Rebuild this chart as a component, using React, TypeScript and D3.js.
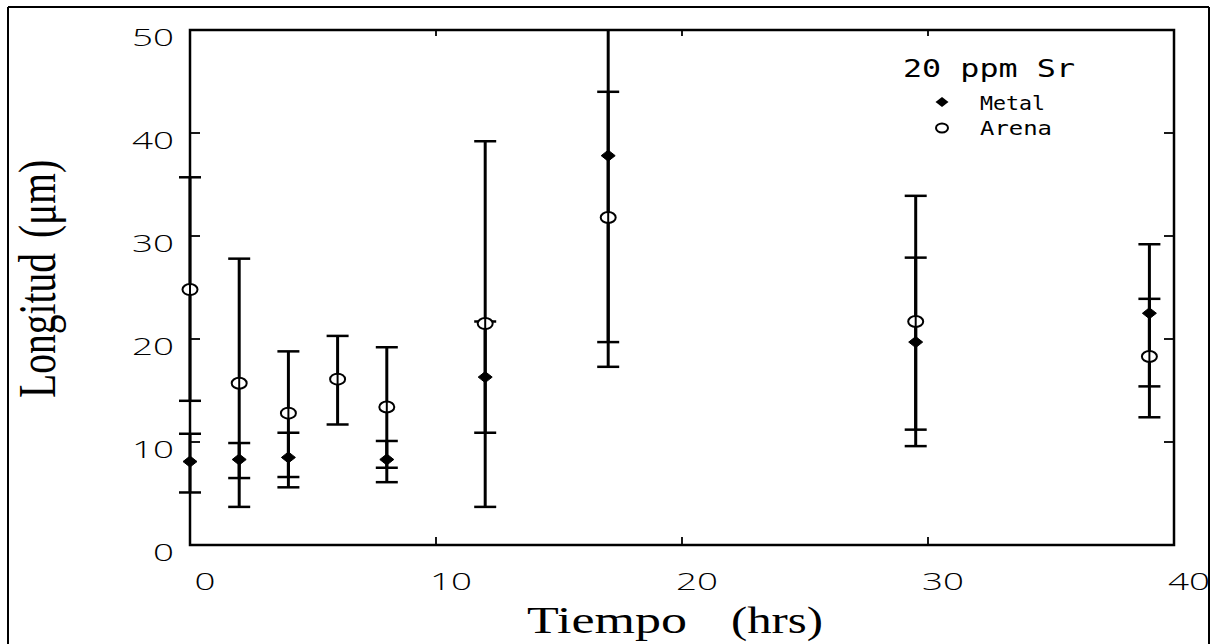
import React from "react";
import * as d3 from "d3";

// ---- data ----
const times = [0, 2, 4, 6, 8, 12, 17, 29.5, 39];
const metalMean: (number | null)[] = [8.1, 8.3, 8.5, null, 8.3, 16.3, 37.8, 19.7, 22.5];
const metalLow: (number | null)[] = [5.1, 6.5, 5.6, null, 6.1, 10.9, 17.3, 11.2, 15.4];
const metalHigh: (number | null)[] = [10.8, 9.9, 10.9, null, 10.1, 21.7, 58.3, 27.9, 29.2];
const arenaMean = [24.8, 15.7, 12.8, 16.1, 13.4, 21.5, 31.8, 21.7, 18.3];
const arenaLow = [14.0, 3.7, 6.6, 11.7, 7.5, 3.7, 19.7, 9.6, 12.4];
const arenaHigh = [35.7, 27.8, 18.8, 20.3, 19.2, 39.2, 44.0, 33.9, 23.9];

const xTicks = [0, 10, 20, 30, 40];
const yTicks = [0, 10, 20, 30, 40, 50];
const innerXTicks = [10, 20, 30];
const innerYTicks = [10, 20, 30, 40];

const legendTitle = "20 ppm Sr";
const legendMetal = "Metal";
const legendArena = "Arena";
const xLabelA = "Tiempo";
const xLabelB = "(hrs)";
const yLabelA = "Longitud";
const yLabelB = "(μm)";

// ---- layout ----
const W = 1214;
const H = 644;
const L = 190, R = 1174, T = 30, B = 545;

export default function App() {
  const x = d3.scaleLinear().domain([0, 40]).range([L, R]);
  const y = d3.scaleLinear().domain([0, 50]).range([B, T]);
  const clampY = (v: number) => Math.max(T, Math.min(B, y(v)));
  const capW = 11;

  const diamond = (cx: number, cy: number, w = 7, h = 5.5) =>
    `M${cx},${cy - h}L${cx + w},${cy}L${cx},${cy + h}L${cx - w},${cy}Z`;

  const errBar = (xv: number, lo: number, hi: number, key: string) => {
    const px = x(xv);
    const y1 = clampY(hi);
    const y2 = clampY(lo);
    return (
      <g key={key}>
        <line x1={px} x2={px} y1={y1} y2={y2} stroke="#000" strokeWidth={3} />
        {hi <= 50 && (
          <line x1={px - capW} x2={px + capW} y1={y(hi)} y2={y(hi)} stroke="#000" strokeWidth={2.5} />
        )}
        {lo >= 0 && (
          <line x1={px - capW} x2={px + capW} y1={y(lo)} y2={y(lo)} stroke="#000" strokeWidth={2.5} />
        )}
      </g>
    );
  };

  const digitFont = "'Open Sans', 'DejaVu Sans', sans-serif";
  const monoFont = "'DejaVu Sans Mono', monospace";
  const serifFont = "'Liberation Serif', 'Times New Roman', serif";

  return (
    <svg
      width={W}
      height={H}
      style={{ position: "absolute", left: 0, top: 0, background: "#fff" }}
    >
      <rect x={0} y={0} width={W} height={H} fill="#fff" />
      {/* outer frame */}
      <line x1={8} x2={8} y1={7} y2={H} stroke="#000" strokeWidth={2} />
      <line x1={8} x2={1209} y1={7} y2={7} stroke="#000" strokeWidth={2} />
      <line x1={1209} x2={1209} y1={7} y2={H} stroke="#000" strokeWidth={2} />

      {/* plot box */}
      <rect x={L} y={T} width={R - L} height={B - T} fill="none" stroke="#000" strokeWidth={2.5} />

      {/* inner ticks */}
      {innerYTicks.map((v) => (
        <g key={"yt" + v}>
          <line x1={L} x2={L + 10} y1={y(v)} y2={y(v)} stroke="#000" strokeWidth={1.8} />
          <line x1={R} x2={R - 10} y1={y(v)} y2={y(v)} stroke="#000" strokeWidth={1.8} />
        </g>
      ))}
      {innerXTicks.map((v) => (
        <g key={"xt" + v}>
          <line x1={x(v)} x2={x(v)} y1={B} y2={B - 8} stroke="#000" strokeWidth={1.8} />
          <line x1={x(v)} x2={x(v)} y1={T} y2={T + 6} stroke="#000" strokeWidth={1.8} />
        </g>
      ))}

      {/* tick labels */}
      {yTicks.map((v) => (
        <text
          key={"yl" + v}
          x={174}
          y={y(v) + 16}
          textAnchor="end"
          fontFamily={digitFont}
          fontWeight={300}
          fontSize={23}
          textLength={String(v).length * 21}
          lengthAdjust="spacingAndGlyphs"
          fill="#000"
        >
          {v}
        </text>
      ))}
      {xTicks.map((v) => (
        <text
          key={"xl" + v}
          x={x(v) + 15}
          y={590}
          textAnchor="middle"
          fontFamily={digitFont}
          fontWeight={300}
          fontSize={23}
          textLength={String(v).length * 21}
          lengthAdjust="spacingAndGlyphs"
          fill="#000"
        >
          {v}
        </text>
      ))}

      {/* axis titles */}
      <text x={527} y={633} fontFamily={serifFont} fontSize={38} textLength={160} lengthAdjust="spacingAndGlyphs" fill="#000">
        {xLabelA}
      </text>
      <text x={731} y={633} fontFamily={serifFont} fontSize={38} textLength={92} lengthAdjust="spacingAndGlyphs" fill="#000">
        {xLabelB}
      </text>
      <text
        transform="translate(55,398) scale(1.3,1) rotate(-90)"
        fontFamily={serifFont}
        fontSize={40}
        textLength={145}
        lengthAdjust="spacingAndGlyphs"
        fill="#000"
      >
        {yLabelA}
      </text>
      <text
        transform="translate(55,238) scale(1.3,1) rotate(-90)"
        fontFamily={serifFont}
        fontSize={40}
        textLength={78}
        lengthAdjust="spacingAndGlyphs"
        fill="#000"
      >
        {yLabelB}
      </text>

      {/* error bars */}
      {times.map((t, i) => errBar(t, arenaLow[i], arenaHigh[i], "ea" + i))}
      {times.map((t, i) =>
        metalMean[i] == null ? null : errBar(t, metalLow[i] as number, metalHigh[i] as number, "em" + i)
      )}

      {/* markers */}
      {times.map((t, i) => (
        <ellipse
          key={"ma" + i}
          cx={x(t)}
          cy={y(arenaMean[i])}
          rx={7.5}
          ry={5.5}
          fill="#fff"
          stroke="#000"
          strokeWidth={2}
        />
      ))}
      {times.map((t, i) => (
        <line key={"mal" + i} x1={x(t)} x2={x(t)} y1={y(arenaMean[i]) - 5.5} y2={y(arenaMean[i]) + 5.5} stroke="#000" strokeWidth={2} />
      ))}
      {times.map((t, i) =>
        metalMean[i] == null ? null : (
          <path key={"mm" + i} d={diamond(x(t), y(metalMean[i] as number))} fill="#000" stroke="#000" strokeWidth={1} />
        )
      )}

      {/* legend */}
      <text x={903} y={77} fontFamily={monoFont} fontSize={24} textLength={172} lengthAdjust="spacingAndGlyphs" fill="#000">
        {legendTitle}
      </text>
      <path d={diamond(942, 102, 6.5, 5)} fill="#000" />
      <text x={980} y={110} fontFamily={monoFont} fontSize={19} textLength={65} lengthAdjust="spacingAndGlyphs" fill="#000">
        {legendMetal}
      </text>
      <ellipse cx={942} cy={128} rx={6} ry={4.5} fill="#fff" stroke="#000" strokeWidth={2} />
      <text x={980} y={135} fontFamily={monoFont} fontSize={19} textLength={72} lengthAdjust="spacingAndGlyphs" fill="#000">
        {legendArena}
      </text>
    </svg>
  );
}
